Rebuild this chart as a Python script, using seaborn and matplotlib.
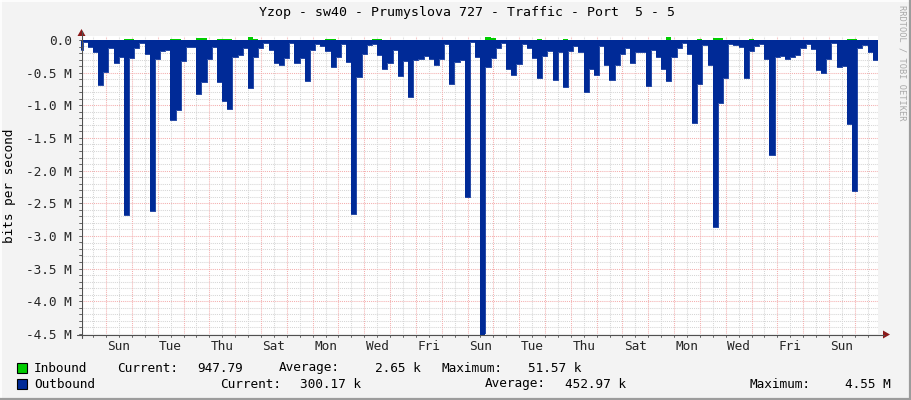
import numpy as np
import pandas as pd
import matplotlib
matplotlib.use("Agg")
import matplotlib.pyplot as plt
from matplotlib.patches import Polygon, Rectangle
import seaborn as sns

# ---------------- data ----------------
TITLE = "Yzop - sw40 - Prumyslova 727 - Traffic - Port  5 - 5"
# time in hours relative to the first Sunday 00:00
T_START = -23.3
T_END = 717.5
FIRST_STEP = -21.75
STEP_H = 4.8

# outbound traffic in Mbit/s (drawn negative), one value per consolidation step
outbound_mbps = [
    -0.16,
    -0.03, -0.11, -0.18, -0.69, -0.49, -0.12, -0.35, -0.26, -2.68, -0.27,
    -0.12, -0.05, -0.22, -2.62, -0.29, -0.17, -0.16, -1.22, -1.07, -0.32,
    -0.11, -0.11, -0.82, -0.64, -0.29, -0.11, -0.65, -0.93, -1.05, -0.26,
    -0.23, -0.12, -0.73, -0.26, -0.13, -0.05, -0.15, -0.35, -0.38, -0.27,
    -0.05, -0.35, -0.27, -0.63, -0.16, -0.07, -0.10, -0.17, -0.41, -0.26,
    -0.07, -0.34, -2.67, -0.57, -0.22, -0.08, -0.07, -0.23, -0.45, -0.36,
    -0.16, -0.55, -0.32, -0.87, -0.30, -0.29, -0.24, -0.29, -0.38, -0.29,
    -0.07, -0.68, -0.34, -0.30, -2.40, -0.03, -0.26, -4.55, -0.41, -0.27,
    -0.12, -0.05, -0.44, -0.53, -0.37, -0.07, -0.13, -0.27, -0.58, -0.24,
    -0.17, -0.61, -0.18, -0.72, -0.17, -0.09, -0.18, -0.80, -0.45, -0.53,
    -0.09, -0.39, -0.61, -0.38, -0.21, -0.12, -0.35, -0.19, -0.18, -0.71,
    -0.16, -0.26, -0.45, -0.63, -0.26, -0.12, -0.05, -0.22, -1.27, -0.68,
    -0.08, -0.38, -2.87, -0.96, -0.59, -0.07, -0.08, -0.11, -0.58, -0.17,
    -0.10, -0.06, -0.29, -1.76, -0.26, -0.25, -0.29, -0.26, -0.23, -0.13,
    -0.07, -0.14, -0.46, -0.50, -0.29, -0.05, -0.42, -0.40, -1.29, -2.31,
    -0.12, -0.08, -0.19, -0.30,
]

# inbound traffic in Mbit/s (drawn positive)
inbound_mbps = [
    0,
    0, 0, 0, 0, 0, 0, 0, 0, 0.02, 0.02,
    0, 0, 0, 0, 0, 0, 0, 0.02, 0.02, 0,
    0, 0, 0.035, 0.035, 0, 0, 0.02, 0.02, 0.02, 0,
    0, 0, 0.05, 0.02, 0, 0, 0, 0, 0, 0,
    0, 0, 0, 0, 0, 0, 0, 0.02, 0.02, 0,
    0, 0, 0, 0, 0, 0, 0.02, 0.02, 0, 0,
    0, 0, 0, 0, 0, 0, 0, 0, 0, 0,
    0, 0, 0, 0, 0, 0, 0, 0, 0.045, 0.03,
    0, 0, 0, 0, 0, 0, 0, 0, 0.02, 0,
    0, 0, 0, 0.02, 0, 0, 0, 0, 0, 0,
    0, 0, 0, 0, 0, 0, 0, 0, 0, 0,
    0, 0, 0, 0.0516, 0, 0, 0, 0, 0, 0.02,
    0, 0, 0.035, 0.03, 0, 0, 0, 0, 0, 0.02,
    0, 0, 0, 0, 0, 0, 0, 0, 0, 0,
    0, 0, 0, 0, 0, 0, 0, 0, 0.02, 0.02,
    0, 0, 0, 0,
]

day_labels = ["Sun", "Tue", "Thu", "Sat", "Mon", "Wed", "Fri", "Sun",
              "Tue", "Thu", "Sat", "Mon", "Wed", "Fri", "Sun"]
day_label_hours = [12 + 48 * i for i in range(len(day_labels))]

ytick_vals = [0.0, -0.5, -1.0, -1.5, -2.0, -2.5, -3.0, -3.5, -4.0, -4.5]
ytick_labels = ["0.0", "-0.5 M", "-1.0 M", "-1.5 M", "-2.0 M", "-2.5 M",
                "-3.0 M", "-3.5 M", "-4.0 M", "-4.5 M"]

legend_rows = [
    ("Inbound", "#00CC00",
     [("Current:", 117), ("947.79", 197), ("Average:", 279), ("2.65 k", 375),
      ("Maximum:", 441), ("51.57 k", 528)]),
    ("Outbound", "#002A97",
     [("Current:", 220), ("300.17 k", 300), ("Average:", 485), ("452.97 k", 565),
      ("Maximum:", 750), ("4.55 M", 845)]),
]

# ---------------- styling ----------------
sns.set_style("white")
plt.rcParams["font.family"] = ["DejaVu Sans Mono"]

BLUE = "#002A97"
GREEN = "#00CC00"
BG = "#F3F3F3"
GRID_MINOR = "#D6D6D6"
GRID_MAJOR = "#F4AFAF"
FS = 9.2

W, H = 911, 400
fig = plt.figure(figsize=(W / 100, H / 100), dpi=100, facecolor=BG)

# plot area: x 81..878 px, y 36..334 px
ax = fig.add_axes([81 / W, 1 - 334 / H, (878 - 81) / W, (334 - 36) / H])
ax.set_facecolor("white")
ax.set_xlim(T_START, T_END)
ax.set_ylim(-4.5, 0.06)

starts = np.r_[T_START, FIRST_STEP + STEP_H * np.arange(len(outbound_mbps) - 1)]
df = pd.DataFrame({
    "t": np.r_[starts, T_END],
    "outbound": np.r_[outbound_mbps, outbound_mbps[-1]],
    "inbound": np.r_[inbound_mbps, inbound_mbps[-1]],
})

# grid
dots = (0, (1, 1))
for v in np.arange(1, 46):
    if v % 5:
        ax.axhline(-v / 10, color=GRID_MINOR, lw=0.75, ls=dots, zorder=1)
for v in ytick_vals[1:]:
    ax.axhline(v, color=GRID_MAJOR, lw=0.75, ls=dots, zorder=1.5)
for d in range(-1, 31):
    ax.axvline(12 + 24 * d, color=GRID_MINOR, lw=0.75, ls=dots, zorder=1)
    ax.axvline(24 * d, color=GRID_MAJOR, lw=0.75, ls=dots, zorder=1.5)

# data
ax.fill_between(df["t"], df["inbound"], 0, step="post", color=GREEN, lw=0, zorder=3)
ax.fill_between(df["t"], df["outbound"], 0, step="post", color=BLUE, lw=0, zorder=3)
sns.lineplot(data=df, x="t", y="outbound", drawstyle="steps-post", color=BLUE,
             lw=0.6, estimator=None, ax=ax, zorder=3)

# ticks
for s in ax.spines.values():
    s.set_visible(False)
ax.set_xticks(day_label_hours)
ax.set_xticklabels(day_labels, fontsize=FS)
ax.set_yticks(ytick_vals)
ax.set_yticklabels(ytick_labels, fontsize=FS)
ax.tick_params(axis="x", length=0, pad=4.5)
ax.tick_params(axis="y", length=0, pad=6.5)
ax.set_xlabel("")
ax.set_ylabel("")

# overlay in pixel coordinates for axes lines, arrows, legend, texts
ov = fig.add_axes([0, 0, 1, 1])
ov.set_xlim(0, W)
ov.set_ylim(H, 0)
ov.axis("off")
ov.patch.set_alpha(0)

AX_COL = "#505050"
ov.plot([77, 884], [334.5, 334.5], color=AX_COL, lw=0.8)
ov.plot([81.5, 81.5], [31, 338], color=AX_COL, lw=0.8)
# small tick marks
for d in range(-1, 31):
    for hh in (0, 12):
        px = 81 + (24 * d + hh - T_START) / (T_END - T_START) * 797
        if 81 < px < 878:
            ov.plot([px, px], [334.5, 337], color=AX_COL, lw=0.6)
for v in np.arange(0, 46):
    py = 40 + v / 10 * 65.3
    ov.plot([78.5, 81.5], [py, py], color=AX_COL, lw=0.6)
ARROW = "#8B1A1A"
ov.add_patch(Polygon([[77.5, 36], [85.5, 36], [81.5, 29]], closed=True, color=ARROW, lw=0))
ov.add_patch(Polygon([[883, 330.5], [883, 338.5], [890, 334.5]], closed=True, color=ARROW, lw=0))

# title, labels
ov.text(467, 12.5, TITLE, ha="center", va="center", fontsize=9.5, color="black")
ov.text(10, 186, "bits per second", rotation=90, ha="center", va="center",
        fontsize=FS, color="black")
ov.text(902, 5, "RRDTOOL / TOBI OETIKER", rotation=270, ha="center", va="top",
        fontsize=6.2, color="#A8A8A8")

# legend
for i, (name, col, items) in enumerate(legend_rows):
    yc = 368 + 16 * i
    ov.add_patch(Rectangle((17, yc - 5), 10, 10, facecolor=col, edgecolor="black", lw=0.8))
    ov.text(34, yc, name, ha="left", va="center", fontsize=FS, color="black")
    for txt, xp in items:
        ov.text(xp, yc, txt, ha="left", va="center", fontsize=FS, color="black")

# 3D frame
ov.plot([0, W], [0.5, 0.5], color="white", lw=1.2)
ov.plot([0.5, 0.5], [0, H], color="white", lw=1.2)
ov.plot([0, W], [398.8, 398.8], color="#9C9C9C", lw=1.6)
ov.plot([909.8, 909.8], [0, H], color="#9C9C9C", lw=1.6)

fig.savefig("out.png", dpi=100, facecolor=BG)
